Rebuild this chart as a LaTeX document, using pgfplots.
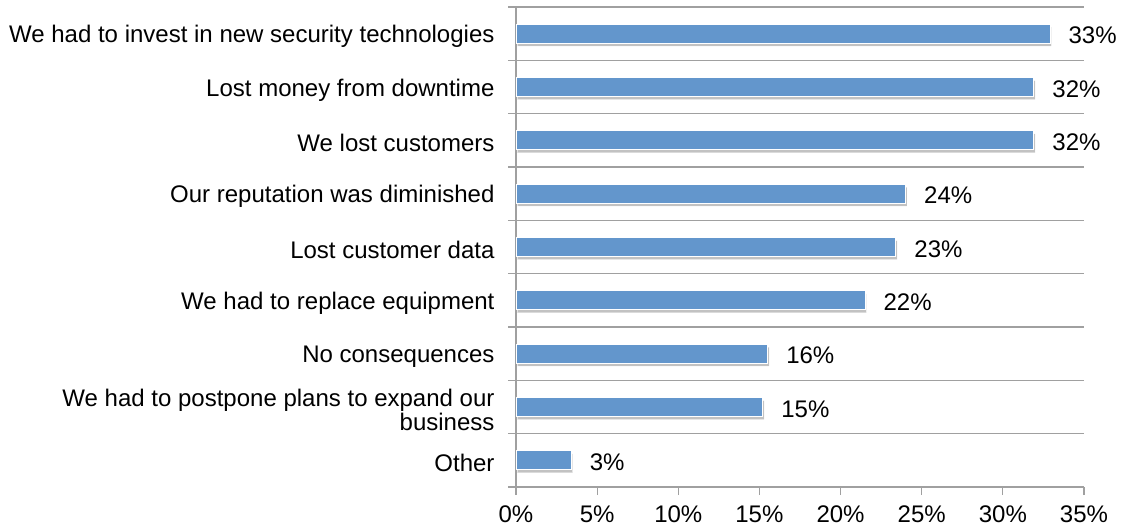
\documentclass[border=0pt]{standalone}
\usepackage{pgfplots}
\pgfplotsset{compat=1.18}
\usepackage{pgfplotstable}
\usepackage{fontspec}
\setmainfont{Liberation Sans}
\usetikzlibrary{shadows}
\definecolor{barblue}{RGB}{99,150,204}
\definecolor{gridgray}{RGB}{160,160,160}
\pgfplotstableread[col sep=comma]{
y,val,lab
8,32.9,33\%
7,31.9,32\%
6,31.9,32\%
5,24.0,24\%
4,23.4,23\%
3,21.5,22\%
2,15.5,16\%
1,15.2,15\%
0,3.4,3\%
}\datatable
\begin{document}
\begin{tikzpicture}
\begin{axis}[
  at={(0,0)}, anchor=south west,
  scale only axis,
  width=568bp, height=480bp,
  xbar,
  bar width=19bp,
  xmin=0, xmax=35,
  ymin=-0.5, ymax=8.5,
  axis x line*=bottom,
  axis y line*=left,
  axis line style={draw=gridgray, line width=1.2bp, -},
  xtick={0,5,...,35},
  /pgf/number format/assume math mode=true,
  xticklabel={\pgfmathprintnumber{\tick}\%},
  xtick align=outside,
  major tick length=8bp,
  tick style={draw=gridgray, line width=1.2bp},
  ytick={-0.5,0.5,...,8.5},
  yticklabels={},
  ymajorgrids=true,
  grid style={draw=gridgray, line width=1.2bp},
  ytick align=outside,
  extra y ticks={0,1,2,3,4,5,6,7,8},
  extra y tick labels={Other,{We had to postpone plans to expand our\\business},No consequences,We had to replace equipment,Lost customer data,Our reputation was diminished,We lost customers,Lost money from downtime,We had to invest in new security technologies},
  extra y tick style={major tick length=0pt, grid=none, yticklabel style={align=right, font=\fontsize{24.1}{23.5}\selectfont, xshift=-18bp, yshift=-3bp}},
  tick label style={font=\fontsize{24.1}{23.5}\selectfont, text=black},
  xticklabel style={yshift=-7bp},
  point meta=explicit symbolic,
  nodes near coords,
  nodes near coords style={anchor=west, font=\fontsize{24.1}{23.5}\selectfont, text=black, xshift=15bp, yshift=-2bp},
  clip=false,
]
\addplot[fill=barblue, draw=white, line width=0.8bp,
  drop shadow={shadow xshift=1.5bp, shadow yshift=-3bp, opacity=0.4, fill=black!60}]
  table[x=val, y=y, meta=lab] {\datatable};
\end{axis}
\pgfresetboundingbox
\path[use as bounding box] (-516bp,-42bp) rectangle (606bp,487bp);
\end{tikzpicture}
\end{document}
